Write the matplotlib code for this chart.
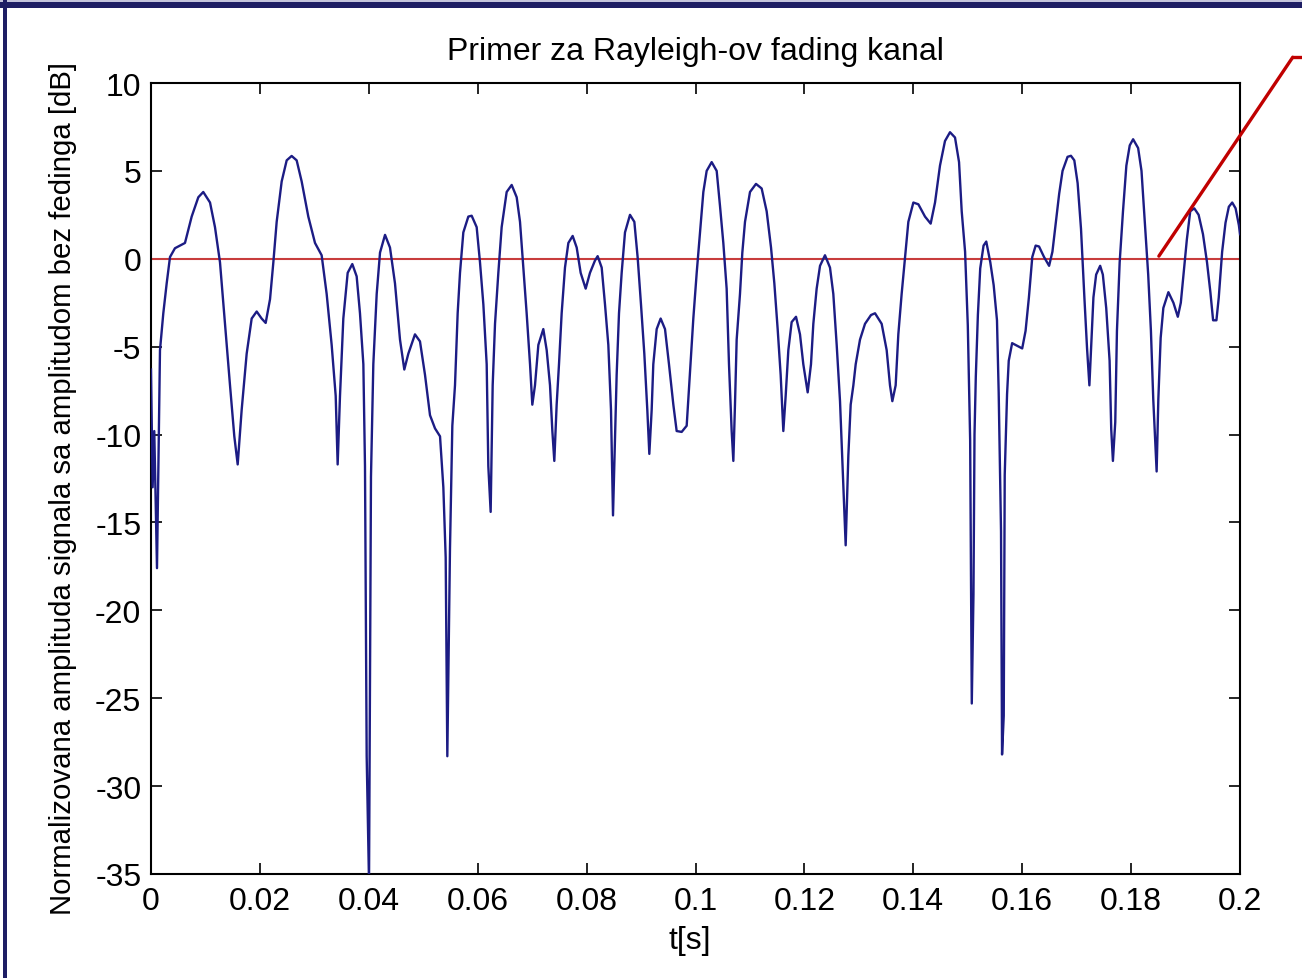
import numpy as np
import matplotlib
matplotlib.use("Agg")
import matplotlib.pyplot as plt
from matplotlib.lines import Line2D
from matplotlib.patches import Rectangle

plt.rcParams['font.family'] = ['Liberation Sans', 'DejaVu Sans']
plt.rcParams['axes.unicode_minus'] = False

# vrijeme [s] i nivo signala [dB], ocitano sa slike, po dijelovima
t_seg1 = [0.0, 0.0003, 0.0006, 0.0011, 0.00165, 0.00226, 0.00288, 0.00349, 0.0044, 0.00624,
          0.00747, 0.00869, 0.0096, 0.01084, 0.01175, 0.01267, 0.01359, 0.01451, 0.0153, 0.01592,
          0.01665, 0.01757, 0.01849, 0.01941, 0.02032, 0.02106, 0.02186, 0.02247, 0.02308, 0.024,
          0.02492, 0.02583, 0.02675, 0.02767, 0.02889, 0.03012, 0.03134, 0.03226, 0.03318, 0.03392,
          0.03428, 0.03471, 0.03532, 0.03612, 0.03697, 0.03777, 0.03838, 0.039, 0.0393, 0.03961,
          0.04004, 0.0404, 0.04083, 0.04145, 0.04206, 0.04298, 0.04389, 0.04481, 0.04573, 0.04652,
          0.04726, 0.04848]
db_seg1 = [-6.3, -13.0, -9.8, -17.6, -5.2, -3.1, -1.4, 0.1, 0.6, 0.9,
           2.4, 3.5, 3.8, 3.2, 1.8, -0.2, -3.7, -7.2, -10.1, -11.7,
           -8.6, -5.4, -3.4, -3.0, -3.4, -3.65, -2.3, -0.2, 2.1, 4.4,
           5.6, 5.85, 5.6, 4.4, 2.4, 0.9, 0.2, -2.0, -4.9, -7.8,
           -11.7, -7.8, -3.4, -0.8, -0.3, -1.0, -3.1, -6.0, -11.8, -28.3,
           -35.5, -12.4, -6.0, -2.0, 0.35, 1.36, 0.64, -1.4, -4.6, -6.3,
           -5.4, -4.3]

t_seg2 = [0.0494, 0.05032, 0.05124, 0.05216, 0.05308, 0.05369, 0.05412, 0.05442, 0.05491, 0.05534,
          0.05583, 0.05632, 0.05675, 0.05736, 0.05828, 0.05889, 0.05981, 0.06042, 0.06104, 0.06165,
          0.06195, 0.06238, 0.06275, 0.06318, 0.06379, 0.0644, 0.06532, 0.06624, 0.06716, 0.06777,
          0.06838, 0.06899, 0.06961, 0.07003, 0.07052, 0.07114, 0.07205, 0.07267, 0.07328, 0.07371,
          0.07407, 0.0745, 0.07493, 0.07542, 0.07603, 0.07665, 0.07744, 0.07818, 0.07891, 0.07983,
          0.08062, 0.08154, 0.08203, 0.08277, 0.08338, 0.08399, 0.08448, 0.08485, 0.08522, 0.08552,
          0.08595, 0.08644, 0.08705, 0.08797, 0.08877, 0.08938, 0.08999, 0.0906, 0.09115, 0.09152,
          0.09195, 0.09225, 0.09287, 0.0936, 0.0944, 0.09513, 0.09593, 0.09654, 0.09746, 0.09838]
db_seg2 = [-4.7, -6.6, -8.9, -9.65, -10.1, -13.0, -17.0, -28.3, -16.5, -9.5,
           -7.2, -3.1, -0.8, 1.5, 2.4, 2.45, 1.8, -0.2, -2.6, -6.0,
           -11.8, -14.4, -7.2, -3.7, -0.8, 1.8, 3.8, 4.2, 3.5, 2.1,
           -0.5, -3.1, -6.0, -8.3, -7.2, -4.9, -4.0, -5.2, -7.2, -9.8,
           -11.5, -8.3, -6.0, -3.1, -0.5, 0.9, 1.3, 0.64, -0.8, -1.7,
           -0.8, -0.1, 0.15, -0.5, -2.6, -4.9, -8.6, -14.6, -10.1, -6.6,
           -3.1, -0.8, 1.5, 2.5, 2.1, 0.06, -2.6, -5.4, -8.6, -11.1,
           -8.6, -6.0, -4.0, -3.4, -4.0, -6.0, -8.3, -9.8, -9.85, -9.5]

t_seg3 = [0.09899, 0.0996, 0.10022, 0.10083, 0.10144, 0.10205, 0.10297, 0.10389, 0.1045, 0.10511,
          0.10572, 0.10615, 0.10664, 0.10695, 0.10725, 0.10756, 0.10817, 0.1086, 0.10909, 0.11001,
          0.11111, 0.11215, 0.11307, 0.11387, 0.11448, 0.11509, 0.11564, 0.11613, 0.11656, 0.11705,
          0.11766, 0.11846, 0.11919, 0.1198, 0.1206, 0.12121, 0.12164, 0.12225, 0.12287, 0.12378,
          0.1247, 0.12531, 0.12593, 0.12654, 0.12697, 0.12758, 0.12807, 0.1285, 0.12899, 0.12942,
          0.13021, 0.13113, 0.13223, 0.13297, 0.13419, 0.13511, 0.13572, 0.13615, 0.13676, 0.13725,
          0.13786, 0.13848, 0.13909, 0.14001, 0.14093, 0.14215, 0.14319, 0.14399, 0.1449, 0.14582,
          0.14674]
db_seg3 = [-6.5, -3.4, -0.8, 1.5, 3.8, 5.0, 5.5, 5.0, 3.0, 0.9,
           -1.7, -6.0, -9.8, -11.5, -8.3, -4.6, -2.0, 0.35, 2.1, 3.8,
           4.26, 4.0, 2.7, 0.64, -1.4, -4.0, -6.6, -9.8, -7.8, -5.2,
           -3.6, -3.3, -4.3, -6.0, -7.6, -6.0, -3.7, -1.7, -0.4, 0.2,
           -0.5, -2.0, -4.9, -8.1, -11.5, -16.3, -11.2, -8.3, -7.2, -6.0,
           -4.6, -3.7, -3.2, -3.1, -3.7, -5.2, -7.2, -8.1, -7.2, -4.3,
           -2.0, 0.06, 2.1, 3.2, 3.1, 2.4, 2.0, 3.2, 5.3, 6.7,
           7.2]

t_seg4 = [0.14766, 0.1484, 0.14889, 0.14951, 0.15001, 0.15044, 0.15074, 0.15105, 0.15124, 0.15148,
          0.15186, 0.15229, 0.1529, 0.1534, 0.15414, 0.15476, 0.15537, 0.15568, 0.15611, 0.1563,
          0.15661, 0.15679, 0.15722, 0.15753, 0.15815, 0.15907, 0.16, 0.16062, 0.16123, 0.16185,
          0.16247, 0.16309, 0.16401, 0.16494, 0.16555, 0.16617, 0.16679, 0.16741, 0.16833, 0.16895,
          0.16957, 0.17018, 0.1708, 0.17142, 0.17191, 0.17234, 0.17265, 0.17308, 0.17358, 0.17432,
          0.17481, 0.17543, 0.17605, 0.17635, 0.17666, 0.17709, 0.1774, 0.1779, 0.17851, 0.17913,
          0.17975, 0.18037, 0.18129, 0.18191, 0.18253, 0.18314, 0.18364, 0.18407, 0.18438, 0.18469,
          0.185, 0.18543, 0.18592, 0.18685, 0.18777, 0.18858, 0.18913, 0.18962, 0.19024, 0.19086,
          0.1916, 0.1924, 0.1932, 0.19394, 0.19456, 0.19506, 0.19567, 0.1961, 0.19672, 0.19734,
          0.19795, 0.19857, 0.19919, 0.1998, 0.2]
db_seg4 = [6.9, 5.5, 2.7, 0.4, -3.8, -10.3, -25.3, -19.1, -10.0, -6.7,
           -3.2, -0.55, 0.75, 0.98, -0.2, -1.5, -3.5, -7.6, -15.5, -28.2,
           -26.0, -12.3, -7.7, -5.8, -4.8, -4.95, -5.1, -4.1, -2.2, 0.1,
           0.75, 0.7, 0.1, -0.4, 0.4, 2.05, 3.7, 5.0, 5.8, 5.86,
           5.6, 4.3, 1.7, -2.2, -5.1, -7.2, -5.1, -2.2, -0.9, -0.4,
           -0.9, -2.8, -5.8, -9.7, -11.5, -9.3, -4.1, -0.2, 2.7, 5.3,
           6.45, 6.8, 6.3, 5.0, 2.05, -0.9, -4.1, -8.0, -10.0, -12.1,
           -8.0, -4.5, -2.8, -1.9, -2.5, -3.3, -2.5, -0.9, 1.1, 2.7,
           2.87, 2.5, 1.4, -0.2, -1.9, -3.5, -3.5, -2.2, 0.4, 2.05,
           2.96, 3.2, 2.87, 1.9, 1.4]

ref_level_db = 0.0          # amplituda bez fedinga
x_ticks = [0, 0.02, 0.04, 0.06, 0.08, 0.1, 0.12, 0.14, 0.16, 0.18, 0.2]
x_tick_labels = ['0', '0.02', '0.04', '0.06', '0.08', '0.1', '0.12', '0.14', '0.16', '0.18', '0.2']
y_ticks = [-35, -30, -25, -20, -15, -10, -5, 0, 5, 10]

t = np.concatenate([t_seg1, t_seg2, t_seg3, t_seg4])
level = np.concatenate([db_seg1, db_seg2, db_seg3, db_seg4])

W, H = 1302, 979
fig = plt.figure(figsize=(W / 100, H / 100), dpi=100)
ax = fig.add_axes([151 / W, 1 - 875 / H, 1089 / W, 791 / H])

ax.plot(t, level, color='#1c1c84', lw=1.7, zorder=3)
ax.plot([t[0], t[-1]], [ref_level_db, ref_level_db], color='#c83c3c', lw=1.5, zorder=2)

ax.set_xlim(0, 0.2)
ax.set_ylim(-35, 10)
ax.set_xticks(x_ticks)
ax.set_xticklabels(x_tick_labels)
ax.set_yticks(y_ticks)
ax.tick_params(direction='in', length=8, width=1.2, labelsize=23,
               top=True, right=True, pad=7)
ax.tick_params(axis='x', pad=9)
for s in ax.spines.values():
    s.set_linewidth(1.5)

ax.set_title('Primer za Rayleigh-ov fading kanal', fontsize=23, pad=17)
ax.set_xlabel('t[s]', fontsize=23)
ax.xaxis.set_label_coords(0.495, -0.064)
ax.set_ylabel('Normalizovana amplituda signala sa amplitudom bez fedinga [dB]', fontsize=21.2)
ax.yaxis.set_label_coords(-0.068, 0.489)

# crvena linija za oznaku
ax.annotate('', xy=(0.1851, 0.15), xycoords='data',
            xytext=(1292.7 / W, 1 - 58.3 / H), textcoords='figure fraction',
            arrowprops=dict(arrowstyle='-', color='#c00000', lw=2.4,
                            shrinkA=0, shrinkB=0), annotation_clip=False)
fig.add_artist(Line2D([1292.7 / W, 1.0], [1 - 58.3 / H, 1 - 58.3 / H],
                      transform=fig.transFigure, color='#c00000', lw=2.4))

# okvir slajda
fig.add_artist(Rectangle((0, 1 - 3 / H), 1, 3 / H, transform=fig.transFigure,
                         color='#c4c4dc', lw=0))
fig.add_artist(Rectangle((0, 1 - 9 / H), 1, 6 / H, transform=fig.transFigure,
                         color='#1e1e64', lw=0))
fig.add_artist(Rectangle((3 / W, 0), 4 / W, 1, transform=fig.transFigure,
                         color='#1e1e64', lw=0))

fig.savefig('out.png', dpi=100)
